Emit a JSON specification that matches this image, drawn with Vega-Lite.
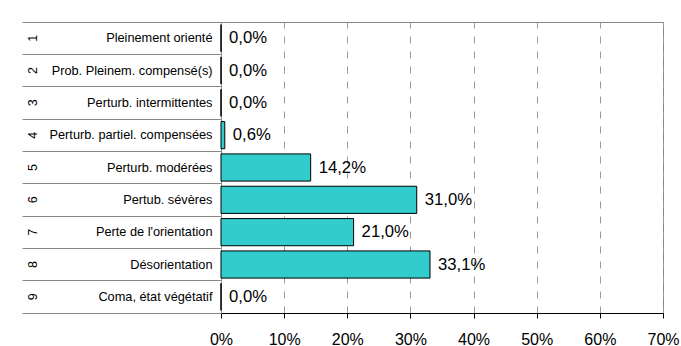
{
  "$schema": "https://vega.github.io/schema/vega-lite/v6.json",
  "width": 442,
  "height": 291,
  "autosize": {"type": "none"},
  "padding": {"left": 221, "top": 22, "right": 18, "bottom": 33},
  "config": {
    "locale": {"number": {"decimal": ",", "thousands": " ", "grouping": [3], "currency": ["", " €"]}},
    "view": {"stroke": "#888888", "strokeWidth": 1},
    "font": "Liberation Sans"
  },
  "data": {
    "values": [
      {"key": "1|Pleinement orienté", "value": 0.0},
      {"key": "2|Prob. Pleinem. compensé(s)", "value": 0.0},
      {"key": "3|Perturb. intermittentes", "value": 0.0},
      {"key": "4|Perturb. partiel. compensées", "value": 0.006},
      {"key": "5|Perturb. modérées", "value": 0.142},
      {"key": "6|Pertub. sévères", "value": 0.31},
      {"key": "7|Perte de l'orientation", "value": 0.21},
      {"key": "8|Désorientation", "value": 0.331},
      {"key": "9|Coma, état végétatif", "value": 0.0}
    ]
  },
  "layer": [
    {
      "mark": {"type": "bar", "fill": "#33CCCC", "stroke": "#000000", "strokeWidth": 1, "height": {"band": 0.84}},
      "encoding": {
        "x": {
          "field": "value", "type": "quantitative",
          "scale": {"domain": [0, 0.7], "nice": false},
          "axis": {
            "title": null, "format": ".0%", "values": [0, 0.1, 0.2, 0.3, 0.4, 0.5, 0.6, 0.7],
            "grid": true, "gridDash": [7, 8], "gridColor": "#999999", "gridWidth": 1,
            "domainColor": "#000000", "tickColor": "#000000", "tickSize": 5,
            "labelPadding": 13, "labelFontSize": 16, "labelFont": "Liberation Sans", "labelColor": "#000000",
            "labelFlush": false
          }
        },
        "y": {
          "field": "key", "type": "nominal", "sort": null,
          "scale": {"paddingInner": 0, "paddingOuter": 0},
          "axis": {
            "orient": "left", "title": null, "domain": false,
            "ticks": true, "tickSize": 199, "tickColor": "#888888", "tickWidth": 1,
            "bandPosition": 1, "tickExtra": true,
            "labelExpr": "datum.value ? split(datum.value, '|')[0] : ''",
            "labelAngle": 270, "labelAlign": "center", "labelBaseline": "middle",
            "labelPadding": -10, "labelFontSize": 12.5,
            "labelColor": "#000000", "labelOverlap": false, "grid": false
          }
        }
      }
    },
    {
      "mark": {"type": "text", "align": "left", "baseline": "middle", "dx": 8, "fontSize": 16.7, "font": "Liberation Sans", "color": "#000000"},
      "encoding": {
        "x": {"field": "value", "type": "quantitative"},
        "y": {
          "field": "key", "type": "nominal", "sort": null,
          "axis": {
            "orient": "left", "title": null, "domain": false, "ticks": false, "grid": false,
            "labelExpr": "split(datum.value, '|')[1]",
            "labelAlign": "right", "labelBaseline": "middle", "labelPadding": 9,
            "labelFontSize": 12.75, "labelColor": "#000000", "labelLimit": 0, "labelOverlap": false
          }
        },
        "text": {"field": "value", "type": "quantitative", "format": ".1%"}
      }
    }
  ],
  "resolve": {"axis": {"y": "independent"}}
}
